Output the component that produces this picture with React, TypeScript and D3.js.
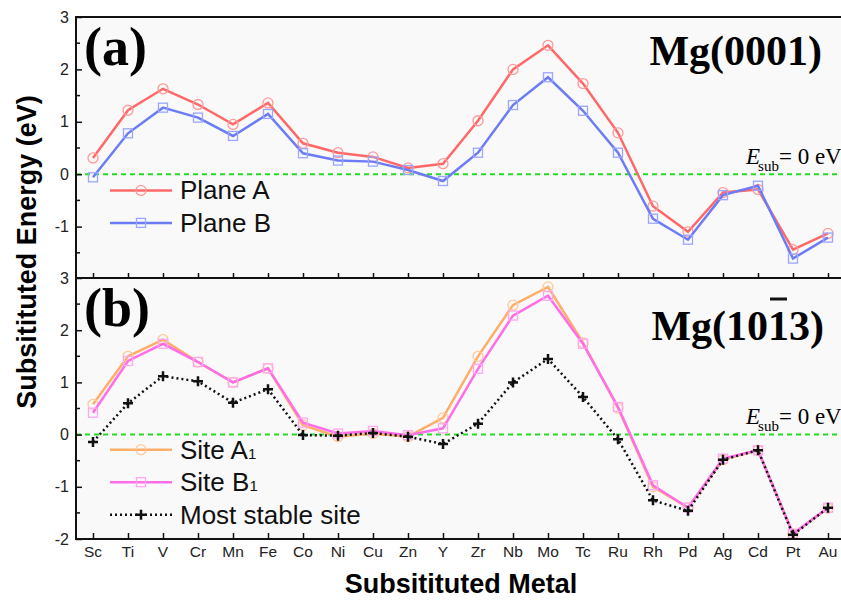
import { useEffect, useRef } from "react";
import * as d3 from "d3";

const metals = ["Sc", "Ti", "V", "Cr", "Mn", "Fe", "Co", "Ni", "Cu", "Zn", "Y", "Zr", "Nb", "Mo", "Tc", "Ru", "Rh", "Pd", "Ag", "Cd", "Pt", "Au"];

// (a) Mg(0001)
const planeA = [0.31, 1.22, 1.63, 1.33, 0.95, 1.36, 0.59, 0.41, 0.33, 0.12, 0.2, 1.02, 2.0, 2.46, 1.73, 0.79, -0.61, -1.1, -0.35, -0.29, -1.44, -1.13];
const planeB = [-0.06, 0.78, 1.27, 1.08, 0.73, 1.15, 0.4, 0.26, 0.24, 0.08, -0.13, 0.41, 1.32, 1.85, 1.21, 0.41, -0.85, -1.25, -0.4, -0.22, -1.61, -1.21];

// (b) Mg(10-13)
const siteA1 = [0.58, 1.5, 1.82, 1.39, 1.0, 1.27, 0.18, -0.04, 0.02, -0.04, 0.32, 1.5, 2.48, 2.83, 1.76, 0.51, -1.0, -1.4, -0.48, -0.3, -1.9, -1.41];
const siteB1 = [0.42, 1.41, 1.74, 1.39, 1.0, 1.27, 0.23, 0.02, 0.07, -0.01, 0.12, 1.26, 2.28, 2.66, 1.74, 0.53, -0.97, -1.4, -0.46, -0.3, -1.9, -1.4];
const mostStable = [-0.14, 0.6, 1.12, 1.02, 0.61, 0.87, -0.01, -0.02, 0.03, -0.04, -0.18, 0.21, 1.0, 1.45, 0.72, -0.09, -1.26, -1.46, -0.48, -0.3, -1.92, -1.4];

const yTicksTop = [-1, 0, 1, 2, 3];
const yTicksBottom = [-2, -1, 0, 1, 2, 3];
const yMinor = [-1.5, -0.5, 0.5, 1.5, 2.5];

const SANS = "Arial, 'Liberation Sans', sans-serif";
const SERIF = "'Times New Roman', 'Liberation Serif', serif";

export default function App() {
  const ref = useRef<SVGSVGElement>(null);

  useEffect(() => {
    const svg = d3.select(ref.current);
    svg.selectAll("*").remove();
    const width = 841;
    const height = 600;
    const left = 76;
    const right = 845;

    svg.attr("width", width).attr("height", height);

    const x = d3.scalePoint<string>().domain(metals).range([93, 828]);

    const drawMarkers = (g: any, pts: number[][], s: { mark: string; marker: string }) => {
      pts.forEach(([px, py]) => {
        if (s.mark === "circle") {
          g.append("circle").attr("cx", px).attr("cy", py).attr("r", 5).attr("fill", "none").attr("stroke", s.marker).attr("stroke-width", 1.3);
        } else if (s.mark === "square") {
          g.append("rect").attr("x", px - 4.5).attr("y", py - 4.5).attr("width", 9).attr("height", 9).attr("fill", "none").attr("stroke", s.marker).attr("stroke-width", 1.3);
        } else {
          g.append("path").attr("d", `M${px - 5},${py}H${px + 5}M${px},${py - 5}V${py + 5}`).attr("stroke", s.marker).attr("stroke-width", 2.5);
        }
      });
    };

    const drawPanel = (
      top: number,
      bottom: number,
      series: { values: number[]; color: string; mark: string; marker: string; dash?: string }[],
      ticks: number[],
      label: string,
      title: (g: any) => void,
      legend: { name: string; sub?: string }[]
    ) => {
      const y = d3.scaleLinear().domain([-2, 3]).range([bottom, top]);
      const g = svg.append("g");

      g.append("rect")
        .attr("x", left)
        .attr("y", top)
        .attr("width", right - left)
        .attr("height", bottom - top)
        .attr("fill", "#f9f9f9");

      // zero line
      g.append("line")
        .attr("x1", left)
        .attr("x2", right)
        .attr("y1", y(0))
        .attr("y2", y(0))
        .attr("stroke", "#22dd22")
        .attr("stroke-width", 2)
        .attr("stroke-dasharray", "5,4");

      series.forEach((s) => {
        const line = d3
          .line<number>()
          .x((_, i) => x(metals[i])!)
          .y((d) => y(d));
        g.append("path")
          .datum(s.values)
          .attr("d", line)
          .attr("fill", "none")
          .attr("stroke", s.color)
          .attr("stroke-width", 2.5)
          .attr("stroke-dasharray", s.dash ?? null);
        drawMarkers(g, s.values.map((v, i) => [x(metals[i])!, y(v)]), s);
      });

      // y ticks, pointing inward
      const yg = g.append("g").attr("transform", `translate(${left},0)`);
      yg.call(d3.axisRight(y).tickValues(ticks).tickSize(6).tickFormat(() => ""))
        .call((a) => a.select(".domain").remove())
        .call((a) => a.selectAll("line").attr("stroke", "#111").attr("stroke-width", 1.5));
      yg.selectAll("line.minor")
        .data(yMinor)
        .join("line")
        .attr("x1", 0)
        .attr("x2", 4)
        .attr("y1", (d) => y(d))
        .attr("y2", (d) => y(d))
        .attr("stroke", "#111")
        .attr("stroke-width", 1.5);
      g.append("g")
        .selectAll("text")
        .data(ticks)
        .join("text")
        .attr("x", 69)
        .attr("y", (d) => y(d) + 5.5)
        .attr("text-anchor", "end")
        .attr("font-family", SANS)
        .attr("font-size", 16)
        .attr("fill", "#222")
        .text((d) => String(d));

      g.append("g")
        .attr("transform", `translate(0,${bottom})`)
        .call(d3.axisTop(x).tickSize(6).tickFormat(() => ""))
        .call((a) => a.select(".domain").remove())
        .call((a) => a.selectAll("line").attr("stroke", "#111").attr("stroke-width", 1.5));

      // frame
      g.append("rect")
        .attr("x", left)
        .attr("y", top)
        .attr("width", right - left)
        .attr("height", bottom - top)
        .attr("fill", "none")
        .attr("stroke", "#111")
        .attr("stroke-width", 2);

      g.append("text")
        .attr("x", 84)
        .attr("y", top + 48)
        .attr("font-family", SERIF)
        .attr("font-weight", "bold")
        .attr("font-size", 54)
        .text(label);

      title(g);

      // E_sub = 0 eV
      const e = g
        .append("text")
        .attr("x", 746)
        .attr("y", y(0) - 10.5)
        .attr("font-family", SERIF)
        .attr("font-size", 23);
      e.append("tspan").attr("font-style", "italic").text("E");
      e.append("tspan").attr("font-size", 15).attr("dx", -2).attr("dy", 7).text("sub");
      e.append("tspan").attr("dy", -7).text("= 0 eV");

      legend.forEach((l, i) => {
        const s = series[i];
        const ly = y(-0.5) + i * 32.5 - (series.length === 3 ? 11 : 10);
        g.append("line")
          .attr("x1", 110)
          .attr("x2", 172)
          .attr("y1", ly)
          .attr("y2", ly)
          .attr("stroke", s.color)
          .attr("stroke-width", 2.5)
          .attr("stroke-dasharray", s.dash ?? null);
        drawMarkers(g, [[141, ly]], s);
        const t = g
          .append("text")
          .attr("x", 180)
          .attr("y", ly + 9)
          .attr("font-family", SANS)
          .attr("font-size", 26)
          .attr("fill", "#111")
          .text(l.name);
        if (l.sub) t.append("tspan").attr("font-size", 15).text(l.sub);
      });
    };

    drawPanel(
      17,
      279,
      [
        { values: planeA, color: "#ff6868", mark: "circle", marker: "#ff9a9a" },
        { values: planeB, color: "#6b7cf5", mark: "square", marker: "#9aa6ff" },
      ],
      yTicksTop,
      "(a)",
      (g) =>
        g
          .append("text")
          .attr("x", 822)
          .attr("y", 65)
          .attr("text-anchor", "end")
          .attr("font-family", SERIF)
          .attr("font-weight", "bold")
          .attr("font-size", 42)
          .text("Mg(0001)"),
      [{ name: "Plane A" }, { name: "Plane B" }]
    );

    drawPanel(
      278,
      539,
      [
        { values: siteA1, color: "#ffae6a", mark: "circle", marker: "#ffc89a" },
        { values: siteB1, color: "#ff6ee8", mark: "square", marker: "#ffa8f0" },
        { values: mostStable, color: "#111", mark: "plus", marker: "#111", dash: "2,3" },
      ],
      yTicksBottom,
      "(b)",
      (g) => {
        const t = g
          .append("text")
          .attr("x", 824)
          .attr("y", 340)
          .attr("text-anchor", "end")
          .attr("font-family", SERIF)
          .attr("font-weight", "bold")
          .attr("font-size", 42)
          .text("Mg(1013)");
        // bar over the second "1"
        const node = t.node() as SVGTextElement;
        const x0 = node.getStartPositionOfChar(5).x;
        const x1 = node.getEndPositionOfChar(5).x;
        g.append("line")
          .attr("x1", x0 + 2)
          .attr("x2", x1 - 2)
          .attr("y1", 299)
          .attr("y2", 299)
          .attr("stroke", "#111")
          .attr("stroke-width", 3);
      },
      [{ name: "Site A", sub: "1" }, { name: "Site B", sub: "1" }, { name: "Most stable site" }]
    );

    svg
      .append("g")
      .selectAll("text")
      .data(metals)
      .join("text")
      .attr("x", (d) => x(d)!)
      .attr("y", 557)
      .attr("text-anchor", "middle")
      .attr("font-family", SANS)
      .attr("font-size", 15.5)
      .attr("fill", "#222")
      .text((d) => d);

    svg
      .append("text")
      .attr("x", 461)
      .attr("y", 593)
      .attr("text-anchor", "middle")
      .attr("font-family", SANS)
      .attr("font-weight", "bold")
      .attr("font-size", 27)
      .text("Subsitituted Metal");

    svg
      .append("text")
      .attr("transform", `translate(36,252) rotate(-90)`)
      .attr("text-anchor", "middle")
      .attr("font-family", SANS)
      .attr("font-weight", "bold")
      .attr("font-size", 27)
      .text("Subsitituted Energy (eV)");
  }, []);

  return <svg ref={ref} style={{ position: "absolute", left: 0, top: 0, background: "#fff" }} />;
}
